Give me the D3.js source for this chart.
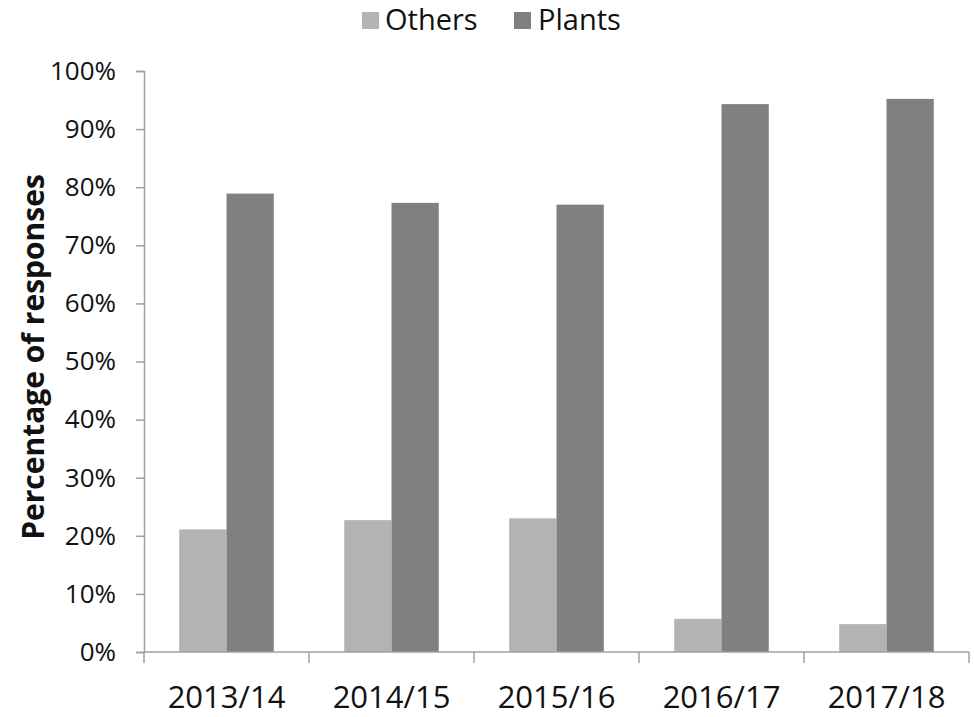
<!DOCTYPE html>
<html>
<head>
<meta charset="utf-8">
<script src="https://cdn.jsdelivr.net/npm/d3@7"></script>
<style>
  html, body { margin: 0; padding: 0; background: #fff; }
  svg { display: block; font-family: "Open Sans", "Noto Sans", sans-serif; }
</style>
</head>
<body>
<svg id="chart" width="974" height="717"></svg>
<script>
// Survey years and share of responses per group
const years = ["2013/14", "2014/15", "2015/16", "2016/17", "2017/18"];
const seriesNames = ["Others", "Plants"];
const othersValues = [0.211, 0.227, 0.230, 0.057, 0.048];
const plantsValues = [0.789, 0.773, 0.770, 0.943, 0.952];
const yTickValues = [0, 0.1, 0.2, 0.3, 0.4, 0.5, 0.6, 0.7, 0.8, 0.9, 1.0];
const colors = { Others: "#b3b3b3", Plants: "#808080" };

const rows = years.map((y, i) => ({ year: y, Others: othersValues[i], Plants: plantsValues[i] }));

const svg = d3.select("#chart");
const plotLeft = 144, plotRight = 969, plotTop = 71, plotBottom = 652;
const axisColor = "#a0a0a0";

const x = d3.scaleBand().domain(years).range([plotLeft, plotRight]).paddingInner(0).paddingOuter(0);
const xInner = d3.scaleBand().domain(seriesNames).range([0, x.bandwidth()]).paddingInner(0).paddingOuter(0.745);
const y = d3.scaleLinear().domain([0, 1]).range([plotBottom, plotTop]);

// Bars
const groups = svg.append("g").selectAll("g").data(rows).join("g")
  .attr("transform", d => `translate(${x(d.year)},0)`);
groups.selectAll("rect")
  .data(d => seriesNames.map(s => ({ key: s, value: d[s] })))
  .join("rect")
  .attr("x", d => xInner(d.key))
  .attr("width", xInner.bandwidth())
  .attr("y", d => y(d.value))
  .attr("height", d => y(0) - y(d.value))
  .attr("fill", d => colors[d.key]);

// Y axis
const yAxis = svg.append("g").attr("transform", `translate(${plotLeft},0)`)
  .call(d3.axisLeft(y).tickValues(yTickValues).tickFormat(d3.format(".0%")).tickSize(8).tickSizeOuter(8).tickPadding(20));
yAxis.select(".domain").attr("stroke", axisColor).attr("stroke-width", 1.5);
yAxis.selectAll(".tick line").attr("stroke", axisColor).attr("stroke-width", 1.5);
yAxis.selectAll(".tick text").attr("fill", "#111").attr("font-size", 26).attr("font-family", "Open Sans");

// X axis with boundary ticks between categories
const xAxisG = svg.append("g");
xAxisG.append("line").attr("x1", plotLeft).attr("x2", plotRight).attr("y1", plotBottom).attr("y2", plotBottom)
  .attr("stroke", axisColor).attr("stroke-width", 1.5);
const boundaries = years.map(yr => x(yr)).concat([x(years[years.length - 1]) + x.bandwidth()]);
xAxisG.selectAll("line.b").data(boundaries).join("line").attr("class", "b")
  .attr("x1", d => d).attr("x2", d => d).attr("y1", plotBottom).attr("y2", plotBottom + 11)
  .attr("stroke", axisColor).attr("stroke-width", 1.5);
xAxisG.selectAll("text").data(years).join("text")
  .attr("x", d => x(d) + x.bandwidth() / 2)
  .attr("y", 708)
  .attr("text-anchor", "middle")
  .attr("font-size", 31)
  .attr("fill", "#111")
  .text(d => d);

// Y axis title
svg.append("text")
  .attr("transform", `translate(44,357) rotate(-90)`)
  .attr("text-anchor", "middle")
  .attr("font-size", 30)
  .attr("font-weight", "bold")
  .attr("fill", "#111")
  .text("Percentage of responses");

// Legend
const legendItems = [
  { key: "Others", sx: 362, tx: 385 },
  { key: "Plants", sx: 514, tx: 538 }
];
const lg = svg.append("g").selectAll("g").data(legendItems).join("g");
lg.append("rect").attr("x", d => d.sx).attr("y", 12).attr("width", 17).attr("height", 17)
  .attr("fill", d => colors[d.key]);
lg.append("text").attr("x", d => d.tx).attr("y", 30).attr("font-size", 29).attr("fill", "#111")
  .text(d => d.key);
</script>
</body>
</html>
